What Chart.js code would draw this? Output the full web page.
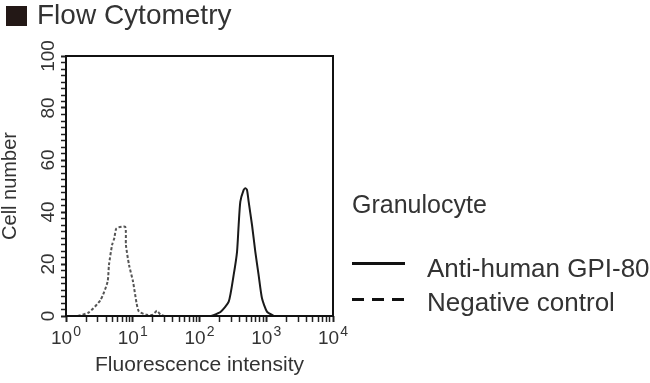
<!DOCTYPE html>
<html>
<head>
<meta charset="utf-8">
<script src="https://cdn.jsdelivr.net/npm/chart.js@4.4.1/dist/chart.umd.min.js"></script>
<style>
  body { margin: 0; background: #fff; }
  #wrap { position: relative; width: 650px; height: 383px; font-family: "Liberation Sans", Arial, sans-serif; color: #333; }
  #wrap canvas { position: absolute; left: 0; top: 0; }
  .txt { position: absolute; white-space: nowrap; line-height: 1; }
  .swatch { position: absolute; left: 352px; width: 53px; height: 3px; }
</style>
</head>
<body>
<div id="wrap">
  <canvas id="myChart" width="650" height="383"></canvas>
  <div class="txt" style="left:6px; top:6px; width:21px; height:20px; background:#231816;"></div>
  <div class="txt" style="left:37px; top:1px; font-size:28px;">Flow Cytometry</div>
  <div class="txt" style="left:352px; top:192px; font-size:25px;">Granulocyte</div>
  <div class="swatch" style="top:262px; background:#111;"></div>
  <div class="txt" style="left:427px; top:255px; font-size:26px;">Anti-human GPI-80</div>
  <div class="swatch" style="top:298px; background:repeating-linear-gradient(to right, #111 0 12px, transparent 12px 20px);"></div>
  <div class="txt" style="left:427px; top:289px; font-size:26px;">Negative control</div>
</div>
<script>
// histogram: intensity (log axis) vs cell count
const gpiX = [150, 206, 274, 325, 365, 386, 409, 459, 486, 515, 545, 612, 686, 768, 863, 1024, 1300];
const gpiY = [0, 1.5, 5.5, 15.8, 24.7, 35, 44, 48.5, 49.1, 48.5, 44, 35, 24.7, 15.8, 6.8, 1.7, 0];

const negX = [1.5, 2.2, 3.3, 4.2, 4.4, 4.9, 5.3, 5.7, 7.7, 7.9, 8.8, 10.1, 11.4, 12.4, 16, 20, 23, 26, 30];
const negY = [0, 1.4, 6.2, 13.2, 19.6, 27.3, 30, 33.7, 34.3, 27.3, 19.6, 13.2, 5, 1.7, 0.5, 0.5, 2, 0.5, 0];

const xMajor = [1, 10, 100, 1000, 10000];
const xExponents = ["0", "1", "2", "3", "4"];
const yTickLabels = [0, 20, 40, 60, 80, 100];

const font = "'Liberation Sans', Arial, sans-serif";

function toPoints(xs, ys) {
  return xs.map((x, i) => ({ x: x, y: ys[i] }));
}

// minor ticks 1..9 in each decade
const xTickValues = [];
for (let d = 0; d < 4; d++) {
  for (let m = 1; m < 10; m++) xTickValues.push(m * Math.pow(10, d));
}
xTickValues.push(10000);

const boxPlugin = {
  id: 'box',
  afterDraw(chart) {
    const a = chart.chartArea;
    const ctx = chart.ctx;
    ctx.save();
    ctx.strokeStyle = '#111';
    ctx.lineWidth = 2;
    ctx.strokeRect(a.left, a.top, a.right - a.left, a.bottom - a.top);

    // 10^n labels with a raised exponent
    const x = chart.scales.x;
    ctx.fillStyle = '#333';
    ctx.textBaseline = 'alphabetic';
    ctx.textAlign = 'left';
    xMajor.forEach((v, i) => {
      const px = x.getPixelForValue(v);
      ctx.font = "19px " + font;
      const w1 = ctx.measureText("10").width;
      ctx.font = "14px " + font;
      const w2 = ctx.measureText(xExponents[i]).width;
      const start = px - (w1 + w2 + 1) / 2;
      ctx.font = "19px " + font;
      ctx.fillText("10", start, 344);
      ctx.font = "14px " + font;
      ctx.fillText(xExponents[i], start + w1 + 1, 336);
    });
    ctx.restore();
  }
};

new Chart("myChart", {
  type: "line",
  data: {
    datasets: [{
      label: "Anti-human GPI-80",
      data: toPoints(gpiX, gpiY),
      borderColor: "#1a1a1a",
      borderWidth: 2,
      pointRadius: 0,
      tension: 0.2
    }, {
      label: "Negative control",
      data: toPoints(negX, negY),
      borderColor: "#555",
      borderWidth: 2,
      borderDash: [3, 2],
      pointRadius: 0,
      tension: 0.2
    }]
  },
  options: {
    responsive: false,
    animation: false,
    layout: { padding: { left: 0, top: 56, right: 317, bottom: 0 } },
    plugins: {
      legend: { display: false },
      tooltip: { enabled: false }
    },
    scales: {
      x: {
        type: "logarithmic",
        min: 1,
        max: 10000,
        afterBuildTicks: (scale) => {
          scale.ticks = xTickValues.map(v => ({ value: v }));
        },
        afterFit: (scale) => { scale.height = 67; },
        border: { display: false },
        grid: {
          drawOnChartArea: false,
          tickLength: 6,
          color: "#222",
          tickWidth: (c) => xMajor.includes(c.tick && c.tick.value) ? 2 : 1.5
        },
        ticks: {
          autoSkip: false,
          maxRotation: 0,
          font: { family: font, size: 19 },
          callback: () => ""
        },
        title: {
          display: true,
          text: "Fluorescence intensity",
          color: "#333",
          font: { family: font, size: 21 },
          padding: { top: 0, bottom: 5 }
        }
      },
      y: {
        min: 0,
        max: 100,
        afterFit: (scale) => { scale.width = 66; },
        border: { display: false },
        grid: {
          drawOnChartArea: false,
          tickLength: 5,
          color: "#222",
          tickWidth: (c) => yTickLabels.includes(c.tick && c.tick.value) ? 2 : 1.5
        },
        ticks: {
          stepSize: 2.5,
          autoSkip: false,
          minRotation: 90,
          maxRotation: 90,
          crossAlign: "center",
          padding: -4,
          color: "#333",
          font: { family: font, size: 19 },
          callback: (v) => yTickLabels.includes(v) ? String(v) : ""
        },
        title: {
          display: true,
          text: "Cell number",
          color: "#333",
          font: { family: font, size: 20, lineHeight: 1 },
          padding: { top: 0, bottom: 0 }
        }
      }
    }
  },
  plugins: [boxPlugin]
});
</script>
</body>
</html>
